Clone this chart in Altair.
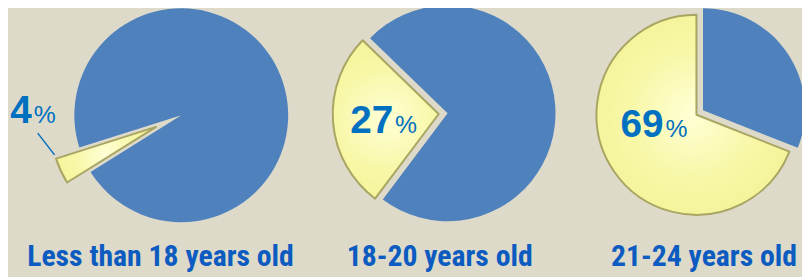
import altair as alt
import pandas as pd
import math

# ---- data ----
groups = ["Less than 18 years old", "18-20 years old", "21-24 years old"]
shares = [4, 27, 69]          # percent of respondents in each age group
number_labels = ["4", "27", "69"]

# ---- styles / layout ----
start_deg = [238.0, 216.9, 111.6]      # where each highlighted slice starts (clockwise from 12 o'clock)
explode = [28, 9, 8]                    # explode distance of highlighted slice
centers_x = [175, 444, 702]
centers_y = [107, 105, 102]
radii = [108, 109, 103]
num_dx = [-151, -55, -40]
num_dy = [8, 20, 27]
cat_dx = [-21, -8, 1]

BG = "#DEDACA"
BLUE = "#4F81BD"
TXT = "#0070C0"
LBL = "#0B5BC0"

rows = []
for k, (g, s, st) in enumerate(zip(groups, shares, start_deg)):
    end = st + s * 3.6
    rows.append({"idx": k, "group": g, "part": "share", "t0": st, "t1": end})
    rows.append({"idx": k, "group": g, "part": "rest", "t0": end, "t1": st + 360})
df = pd.DataFrame(rows)

xscale = alt.Scale(domain=[0, 1, 2], range=centers_x)
tscale = alt.Scale(domain=[0, 360], range=[0, 2 * math.pi])

yellow_fill = alt.Gradient(
    gradient="radial",
    x1=0.5, y1=0.5, r1=0.0, x2=0.5, y2=0.5, r2=0.6,
    stops=[
        alt.GradientStop(color="#FFFFD6", offset=0.0),
        alt.GradientStop(color="#F7F7A6", offset=0.55),
        alt.GradientStop(color="#F4F49C", offset=0.85),
        alt.GradientStop(color="#FBFBC8", offset=1.0),
    ],
)

X = alt.X("idx:Q", scale=xscale, axis=None)

layers = []
for i, g in enumerate(groups):
    sub = df[df["group"] == g]
    base = alt.Chart(sub).encode(
        x=X,
        theta=alt.Theta("t0:Q", scale=tscale),
        theta2="t1:Q",
    )
    blue = base.transform_filter(alt.datum.part == "rest").mark_arc(
        radius=radii[i], fill=BLUE
    ).encode(y=alt.value(centers_y[i]))
    mid = math.radians(start_deg[i] + shares[i] * 1.8)
    dx = explode[i] * math.sin(mid)
    dy = -explode[i] * math.cos(mid)
    yel = base.transform_filter(alt.datum.part == "share").mark_arc(
        radius=radii[i] - 2, fill=yellow_fill, stroke="#A9A562", strokeWidth=2,
        strokeJoin="round", xOffset=dx, yOffset=dy
    ).encode(y=alt.value(centers_y[i]))
    layers += [blue, yel]

tdf = pd.DataFrame({"idx": [0, 1, 2], "group": groups, "num": number_labels})
for i, g in enumerate(groups):
    sub = tdf[tdf["group"] == g]
    tb = alt.Chart(sub).encode(x=X, y=alt.value(centers_y[i]))
    layers.append(tb.mark_text(font="Liberation Sans", fontWeight="bold", fontSize=39,
                               color=TXT, align="right", baseline="alphabetic",
                               dx=num_dx[i], dy=num_dy[i]).encode(text="num:N"))
    layers.append(tb.mark_text(font="Liberation Sans", fontSize=25,
                               color=TXT, align="left", baseline="alphabetic",
                               dx=num_dx[i] + 2, dy=num_dy[i]).encode(text=alt.value("%")))
    layers.append(tb.mark_text(font="Roboto Condensed",
                               fontWeight="bold", fontSize=30, color=LBL,
                               align="center", baseline="alphabetic",
                               dx=cat_dx[i]).encode(y=alt.value(259), text="group:N"))

# leader line for the small slice
lead = alt.Chart(tdf[tdf["group"] == groups[0]]).mark_rule(
    color=TXT, strokeWidth=1.5, xOffset=-145, x2Offset=-128, yOffset=18, y2Offset=40
).encode(
    x=X,
    x2="idx:Q",
    y=alt.value(centers_y[0]),
    y2=alt.value(centers_y[0]),
)
layers.append(lead)

chart = alt.layer(*layers).properties(
    width=802, height=269, background=BG, padding=0,
    autosize=alt.AutoSizeParams(type="none"),
).configure_view(stroke=None)

chart.save("out.html", embed_options={"renderer": "svg", "actions": False})
